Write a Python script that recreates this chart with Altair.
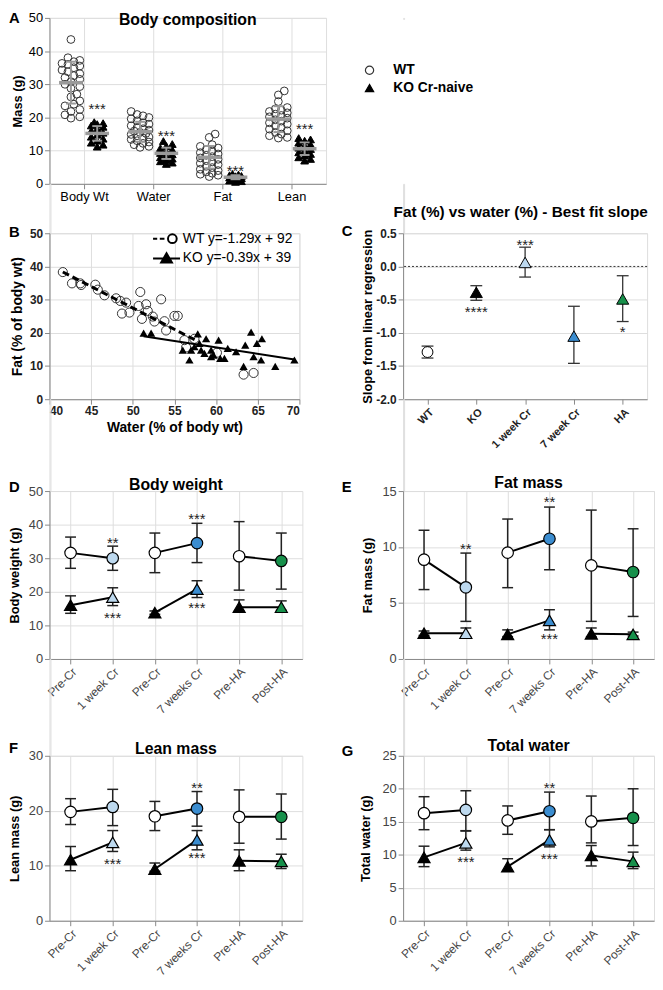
import altair as alt
import pandas as pd

FONT = "Liberation Sans"
LIGHT_BLUE = "#bdd9ef"
MID_BLUE = "#3b8dd0"
GREEN = "#17904b"

# ---------------- Panel A : body composition ----------------
comp_cats = ["Body Wt", "Water", "Fat", "Lean"]
a_groups = ["WT", "KO Cr-naive"]
a_wt_body = [43.5, 38.0, 37.2, 36.8, 36.3, 36.0, 35.5, 35.0, 34.3, 33.8, 33.2, 32.6, 32.0, 31.5,
             30.8, 30.0, 29.3, 28.8, 27.0, 26.2, 25.0, 24.0, 23.5, 22.4, 21.8, 20.8, 20.2, 19.8]
a_wt_water = [21.8, 20.9, 20.5, 20.0, 19.6, 19.0, 18.4, 18.0, 17.5, 17.0, 16.6, 16.2, 15.9, 15.5,
              15.2, 14.9, 14.5, 14.1, 13.8, 13.4, 13.0, 12.6, 12.2, 11.8, 11.3, 11.0]
a_wt_fat = [15.0, 14.0, 11.8, 11.3, 10.8, 10.3, 9.9, 9.4, 9.0, 8.6, 8.2, 7.8, 7.4, 7.0, 6.6,
            6.2, 5.8, 5.3, 4.9, 4.4, 4.0, 3.6, 3.2, 2.9, 2.6, 2.2]
a_wt_lean = [28.0, 26.8, 24.8, 23.0, 22.6, 22.2, 21.8, 21.4, 21.0, 20.6, 20.2, 19.8, 19.3, 18.9,
             18.4, 18.0, 17.5, 17.0, 16.5, 16.0, 15.5, 15.0, 14.5, 14.0, 13.8]
a_ko_body = [18.6, 18.3, 18.0, 17.6, 17.2, 16.6, 16.0, 15.4, 14.8, 14.2, 13.6, 13.0, 12.4, 11.8, 11.2]
a_ko_water = [12.9, 12.0, 11.4, 10.8, 10.3, 9.8, 9.3, 8.9, 8.5, 8.0, 7.6, 7.2, 6.8, 6.4, 6.0]
a_ko_fat = [3.0, 2.8, 2.6, 2.4, 2.3, 2.1, 2.0, 1.9, 1.7, 1.6, 1.4, 1.2, 1.0, 0.8, 0.6]
a_ko_lean = [13.8, 13.4, 13.0, 12.4, 11.9, 11.4, 10.9, 10.5, 10.0, 9.5, 9.0, 8.5, 8.0, 7.5, 7.0]
a_wt_mean = [30.5, 15.7, 8.0, 19.5]
a_wt_sd = [6.3, 3.0, 3.4, 3.9]
a_ko_mean = [15.2, 9.2, 2.0, 10.6]
a_ko_sd = [2.2, 1.7, 0.6, 1.9]
a_star_y = [23.3, 15.2, 4.6, 17.5]

# ---------------- Panel B : fat % vs water % ----------------
b_wt_water = [41.6, 42.7, 43.7, 43.8, 45.5, 45.8, 46.6, 48.0, 48.5, 48.7, 49.2, 49.6, 50.9, 50.7,
              51.6, 51.8, 51.1, 52.4, 52.6, 53.4, 53.8, 54.0, 55.0, 55.4, 56.2, 56.4, 57.4, 60.1,
              63.3, 64.5]
b_wt_fat = [38.3, 34.9, 34.9, 34.4, 34.5, 33.0, 31.3, 30.4, 29.6, 25.8, 29.1, 26.1, 32.3, 28.1,
            28.6, 26.6, 24.2, 24.9, 23.4, 30.1, 23.5, 20.7, 25.1, 25.1, 17.8, 15.6, 18.2, 14.0,
            7.4, 7.9]
b_ko_water = [51.3, 52.2, 56.0, 56.8, 57.0, 57.4, 57.8, 58.0, 58.2, 58.6, 58.8, 59.4, 59.4, 59.7,
              60.3, 60.5, 61.0, 61.4, 62.4, 63.3, 63.5, 64.2, 64.5, 64.9, 65.4, 65.5, 67.1, 69.4]
b_ko_fat = [19.9, 19.9, 14.8, 11.8, 14.8, 15.8, 19.7, 16.8, 14.8, 13.8, 18.2, 12.8, 14.8, 13.3,
            17.8, 12.3, 12.3, 15.3, 14.3, 9.9, 16.3, 20.2, 12.8, 16.8, 11.8, 18.2, 9.9, 11.8]
b_fit_labels = ["WT y=-1.29x + 92", "KO y=-0.39x + 39"]
b_fit_slope = [-1.29, -0.39]
b_fit_icpt = [92.0, 39.0]
b_fit_range = [[41.6, 57.6], [51.3, 69.4]]

# ---------------- Panel C : best-fit slopes ----------------
c_cats = ["WT", "KO", "1 week Cr", "7 week Cr", "HA"]
c_slope = [-1.29, -0.39, 0.06, -1.05, -0.49]
c_lo = [-1.38, -0.51, -0.16, -1.46, -0.83]
c_hi = [-1.20, -0.29, 0.29, -0.60, -0.14]
c_star_cat = ["KO", "1 week Cr", "HA"]
c_star_txt = ["****", "***", "*"]
c_star_y = [-0.65, 0.37, -0.94]

# ---------------- Panels D-G : time courses ----------------
time_cats = ["Pre-Cr", "1 week Cr", "Pre-Cr", "7 weeks Cr", "Pre-HA", "Post-HA"]

d_wt = [31.6, 30.0, 31.6, 34.5, 30.6, 29.2]
d_wt_lo = [27.0, 26.4, 25.7, 28.7, 20.5, 20.8]
d_wt_hi = [36.3, 33.6, 37.5, 40.4, 40.9, 37.5]
d_ko = [16.0, 18.4, 13.8, 20.8, 15.4, 15.4]
d_ko_lo = [13.6, 15.9, 13.3, 18.3, 14.2, 14.5]
d_ko_hi = [18.8, 21.2, 14.3, 23.3, 17.6, 17.3]
d_star_i = [1, 1, 3, 3]
d_star_txt = ["**", "***", "***", "***"]
d_star_y = [35.3, 13.1, 42.5, 16.0]

e_wt = [8.87, 6.4, 9.5, 10.74, 8.36, 7.77]
e_wt_lo = [6.2, 3.36, 6.37, 7.97, 3.36, 3.8]
e_wt_hi = [11.5, 9.46, 12.5, 13.57, 13.3, 11.63]
e_ko = [2.3, 2.3, 2.2, 3.45, 2.25, 2.2]
e_ko_lo = [2.1, 2.0, 2.0, 2.6, 2.0, 2.05]
e_ko_hi = [2.5, 2.77, 2.6, 4.4, 2.77, 2.4]
e_star_i = [1, 3, 3]
e_star_txt = ["**", "**", "***"]
e_star_y = [10.1, 14.25, 2.0]

f_wt = [19.8, 20.7, 19.0, 20.4, 18.9, 18.9]
f_wt_lo = [17.5, 17.3, 16.4, 17.2, 14.1, 14.85]
f_wt_hi = [22.2, 23.9, 21.7, 23.5, 23.8, 23.05]
f_ko = [11.1, 14.25, 9.4, 14.7, 10.9, 10.8]
f_ko_lo = [9.1, 12.6, 9.0, 12.9, 9.1, 9.5]
f_ko_hi = [13.5, 16.4, 10.5, 16.4, 12.9, 12.1]
f_star_i = [3, 1, 3]
f_star_txt = ["**", "***", "***"]
f_star_y = [24.7, 10.8, 11.9]

g_wt = [16.3, 16.8, 15.2, 16.6, 15.05, 15.6]
g_wt_lo = [13.8, 13.65, 13.1, 13.8, 11.8, 11.4]
g_wt_hi = [18.8, 19.7, 17.4, 19.5, 18.9, 20.0]
g_ko = [9.6, 11.8, 8.2, 12.25, 9.9, 9.0]
g_ko_lo = [8.2, 10.7, 7.6, 11.2, 8.3, 7.9]
g_ko_hi = [11.3, 13.6, 9.4, 13.8, 11.4, 10.4]
g_star_i = [3, 1, 3]
g_star_txt = ["**", "***", "***"]
g_star_y = [20.5, 9.3, 9.8]

# ---------------- helpers ----------------
WT_FILLS = ["white", LIGHT_BLUE, "white", MID_BLUE, "white", GREEN]
KO_FILLS = ["black", LIGHT_BLUE, "black", MID_BLUE, "black", GREEN]
C_FILLS = {"WT": "white", "KO": "black", "1 week Cr": LIGHT_BLUE, "7 week Cr": MID_BLUE, "HA": GREEN}
C_SHAPES = {"WT": "circle", "KO": "triangle-up", "1 week Cr": "triangle-up",
            "7 week Cr": "triangle-up", "HA": "triangle-up"}


def swarm(values, ppu, diam, step, maxoff):
    """Deterministic, bounded beeswarm offsets in pixels (markers may overlap when crowded)."""
    placed, offs = [], [0.0] * len(values)
    cands = [0.0]
    j = 1
    while j * step <= maxoff:
        cands += [j * step, -j * step]
        j += 1
    for i in sorted(range(len(values)), key=lambda k: values[k]):
        y = values[i] * ppu
        best, best_d = 0.0, -1.0
        for c in cands:
            d = min([((c - px) ** 2 + (y - py) ** 2) ** 0.5 for px, py in placed] or [1e9])
            if d >= diam:
                best = c
                break
            if d > best_d:
                best, best_d = c, d
        offs[i] = best
        placed.append((best, y))
    return offs


def text_mark(text, x, y, size, weight="bold", align="left", color="black"):
    return alt.Chart(pd.DataFrame({"t": [text]})).mark_text(
        align=align, baseline="middle", fontSize=size, fontWeight=weight, font=FONT, color=color
    ).encode(x=alt.value(x), y=alt.value(y), text="t:N")


def spacer(h):
    return alt.Chart(pd.DataFrame({"s": [0]})).mark_point(opacity=0, size=1).encode(
        x=alt.value(0), y=alt.value(0)).properties(width=1, height=h)


def label_expr(labels, floor=False):
    arr = "[" + ",".join("'" + s + "'" for s in labels) + "]"
    return arr + ("[floor(datum.value)]" if floor else "[datum.value]")


# ---------------- build panel A ----------------
A_W, A_H = 280, 168
a_ppu_y = A_H / 50.0
a_ppu_x = A_W / 4.0
wt_lists = [a_wt_body, a_wt_water, a_wt_fat, a_wt_lean]
ko_lists = [a_ko_body, a_ko_water, a_ko_fat, a_ko_lean]
pts, summ, stars = [], [], []
for ci, cat in enumerate(comp_cats):
    for g, vals, side, mean, sd, dia, mo in (
            ("WT", wt_lists[ci], -0.19, a_wt_mean[ci], a_wt_sd[ci], 6.5, 11),
            ("KO Cr-naive", ko_lists[ci], 0.19, a_ko_mean[ci], a_ko_sd[ci], 5.5, 8)):
        offs = swarm(vals, a_ppu_y, dia, 3.0, mo)
        for v, o in zip(vals, offs):
            pts.append({"group": g, "v": v, "x": ci + 0.5 + side + o / a_ppu_x})
        summ.append({"x": ci + 0.5 + side, "v": mean, "lo": mean - sd, "hi": mean + sd})
    stars.append({"x": ci + 0.5 + 0.19, "v": a_star_y[ci], "t": "***"})
a_pts = pd.DataFrame(pts)
a_sum = pd.DataFrame(summ)
a_star = pd.DataFrame(stars)

xA_axis = alt.Axis(values=[0.5, 1.5, 2.5, 3.5], labelExpr=label_expr(comp_cats, True), title=None,
                   labelFontSize=13, labelAngle=0, labelOverlap=False)
yA_axis = alt.Axis(values=[0, 10, 20, 30, 40, 50], title="Mass (g)", titlePadding=4, labelFontSize=13,
                   titleFontSize=13, titleFontWeight="bold")
xA_scale = alt.Scale(domain=[0, 4], nice=False, zero=False)
yA_scale = alt.Scale(domain=[0, 50], nice=False)


def xA(f="x"):
    return alt.X(f + ":Q", scale=xA_scale, axis=xA_axis)


def yA(f="v"):
    return alt.Y(f + ":Q", scale=yA_scale, axis=yA_axis)


leg_a = alt.Legend(orient="none", legendX=317, legendY=46, title=None, labelFontSize=14,
                   labelFontWeight="bold", labelFont=FONT, labelColor="black", symbolSize=70,
                   symbolStrokeWidth=1.2, labelOffset=17, rowPadding=4, padding=0)
a_points = alt.Chart(a_pts).mark_point(size=62, strokeWidth=1, opacity=1, filled=True).encode(
    x=xA(), y=yA(),
    shape=alt.Shape("group:N", scale=alt.Scale(domain=a_groups, range=["circle", "triangle-up"]), legend=leg_a),
    fill=alt.Fill("group:N", scale=alt.Scale(domain=a_groups, range=["transparent", "black"]), legend=leg_a),
    stroke=alt.Stroke("group:N", scale=alt.Scale(domain=a_groups, range=["#333333", "black"]), legend=leg_a),
)
a_sd = alt.Chart(a_sum).mark_rule(color="#9a9a9a", strokeWidth=2).encode(x=xA(), y=yA("lo"), y2="hi:Q")
a_cap_lo = alt.Chart(a_sum).mark_tick(orient="horizontal", size=10, thickness=2, color="#9a9a9a",
                                      opacity=1).encode(x=xA(), y=yA("lo"))
a_cap_hi = alt.Chart(a_sum).mark_tick(orient="horizontal", size=10, thickness=2, color="#9a9a9a",
                                      opacity=1).encode(x=xA(), y=yA("hi"))
a_mean = alt.Chart(a_sum).mark_tick(orient="horizontal", size=24, thickness=3.5, color="#9a9a9a",
                                    opacity=1).encode(x=xA(), y=yA())
a_stars = alt.Chart(a_star).mark_text(fontSize=15, font=FONT, color="#222", baseline="middle",
                                      dy=3).encode(x=xA(), y=yA(), text="t:N")
panel_a = alt.layer(
    a_points, a_sd, a_cap_lo, a_cap_hi, a_mean, a_stars,
    text_mark("Body composition", A_W / 2, 2, 16, align="center"),
    text_mark("A", -41, 0, 15),
).properties(width=A_W, height=A_H)

# ---------------- build panel B ----------------
B_W, B_H = 253, 168
xB_axis = alt.Axis(values=[40, 45, 50, 55, 60, 65, 70], title="Water (% of body wt)", labelFontWeight="bold",
                   labelFontSize=12, titleFontSize=14, labelColor="#222", labelOverlap=False)
yB_axis = alt.Axis(values=[0, 10, 20, 30, 40, 50], title="Fat (% of body wt)", labelFontWeight="bold",
                   labelFontSize=12, titleFontSize=14, titlePadding=5, labelColor="#222")
xB = alt.X("w:Q", scale=alt.Scale(domain=[40, 70], nice=False, zero=False), axis=xB_axis)
yB = alt.Y("f:Q", scale=alt.Scale(domain=[0, 50], nice=False), axis=yB_axis)

b_wt = pd.DataFrame({"w": b_wt_water, "f": b_wt_fat})
b_ko = pd.DataFrame({"w": b_ko_water, "f": b_ko_fat})
fit_rows = []
for lab, s, c, rng in zip(b_fit_labels, b_fit_slope, b_fit_icpt, b_fit_range):
    for w in rng:
        fit_rows.append({"lab": lab, "w": w, "f": s * w + c})
b_fit = pd.DataFrame(fit_rows)

wt_sym = ("M-1.3,0L-0.9,0M-0.65,0L-0.2,0M0.98,0A0.42,0.42 0 1 1 0.14,0"
          "A0.42,0.42 0 1 1 0.98,0Z")
ko_sym = "M-1.3,0L1.3,0M0,-0.5L0.52,0.4L-0.52,0.4Z"
leg_b = alt.Legend(orient="none", legendX=107, legendY=-6, title=None, labelFontSize=14, labelFont=FONT,
                   labelColor="black", symbolSize=441, symbolStrokeWidth=2, labelOffset=5,
                   rowPadding=0, padding=0)
b_legend = alt.Chart(pd.DataFrame({"lab": b_fit_labels, "w": [50, 50], "f": [25, 25]})).transform_filter(
    "false").mark_point(filled=True, opacity=1, strokeWidth=2).encode(
    x=xB, y=yB,
    shape=alt.Shape("lab:N", scale=alt.Scale(domain=b_fit_labels, range=[wt_sym, ko_sym]), legend=leg_b),
    fill=alt.Fill("lab:N", scale=alt.Scale(domain=b_fit_labels, range=["white", "black"]), legend=leg_b),
    stroke=alt.Stroke("lab:N", scale=alt.Scale(domain=b_fit_labels, range=["black", "black"]), legend=leg_b),
)
b_wt_pts = alt.Chart(b_wt).mark_point(shape="circle", filled=False, size=85, stroke="#333", strokeWidth=1,
                                      opacity=1).encode(x=xB, y=yB)
b_ko_pts = alt.Chart(b_ko).mark_point(shape="triangle-up", filled=True, size=70, fill="black",
                                      opacity=1).encode(x=xB, y=yB)
b_wt_line = alt.Chart(b_fit).transform_filter(alt.datum.lab == b_fit_labels[0]).mark_line(
    color="black", strokeWidth=3, strokeDash=[7, 4]).encode(x=xB, y=yB)
b_ko_line = alt.Chart(b_fit).transform_filter(alt.datum.lab == b_fit_labels[1]).mark_line(
    color="black", strokeWidth=2).encode(x=xB, y=yB)
panel_b = alt.layer(
    b_wt_pts, b_ko_pts, b_wt_line, b_ko_line, b_legend, text_mark("B", -41, -1, 15)
).properties(width=B_W, height=B_H)

# ---------------- build panel C ----------------
C_W, C_H = 247, 168
c_df = pd.DataFrame({"cat": c_cats, "v": c_slope, "lo": c_lo, "hi": c_hi,
                     "fill": [C_FILLS[c] for c in c_cats], "shape": [C_SHAPES[c] for c in c_cats],
                     "size": [120 if C_SHAPES[c] == "circle" else 150 for c in c_cats]})
c_st = pd.DataFrame({"cat": c_star_cat, "v": c_star_y, "t": c_star_txt})
xC = alt.X("cat:N", sort=c_cats, scale=alt.Scale(type="point", padding=0.5),
           axis=alt.Axis(title=None, labelAngle=-45, labelFontWeight="bold", labelFontSize=11,
                         labelColor="#222", labelOverlap=False))
yC_axis = alt.Axis(values=[-2.0, -1.5, -1.0, -0.5, 0.0, 0.5],
                   labelExpr="replace(format(datum.value, '.1f'), '\u2212', '-')",
                   title="Slope from linear regression", labelFontWeight="bold", labelFontSize=12,
                   titlePadding=1, labelColor="#222", titleFontSize=13, titleFontWeight="bold")
yC_scale = alt.Scale(domain=[-2.0, 0.5], nice=False, zero=False)


def yC(f):
    return alt.Y(f + ":Q", scale=yC_scale, axis=yC_axis)


c_zero = alt.Chart(pd.DataFrame({"z": [0.0]})).mark_rule(color="#333", strokeWidth=1, strokeDash=[2, 2]).encode(
    y=yC("z"))
c_err = alt.Chart(c_df).mark_rule(color="#333", strokeWidth=1.3).encode(x=xC, y=yC("lo"), y2="hi:Q")
c_cap1 = alt.Chart(c_df).mark_tick(orient="horizontal", size=12, thickness=1.3, color="#333", opacity=1).encode(
    x=xC, y=yC("lo"))
c_cap2 = alt.Chart(c_df).mark_tick(orient="horizontal", size=12, thickness=1.3, color="#333", opacity=1).encode(
    x=xC, y=yC("hi"))
c_pts = alt.Chart(c_df).mark_point(filled=True, stroke="black", strokeWidth=1, opacity=1).encode(
    x=xC, y=yC("v"), shape=alt.Shape("shape:N", scale=None), fill=alt.Fill("fill:N", scale=None),
    size=alt.Size("size:Q", scale=None))
c_stars = alt.Chart(c_st).mark_text(fontSize=15, font=FONT, color="#222", baseline="middle", dy=3).encode(
    x=xC, y=yC("v"), text="t:N")
panel_c = alt.layer(
    c_zero, c_err, c_cap1, c_cap2, c_pts, c_stars,
    text_mark("Fat (%) vs water (%) - Best fit slope", 119, -21, 15.5, align="center"),
    text_mark("C", -62, -2, 15),
).properties(width=C_W, height=C_H)


# ---------------- build panels D-G ----------------
def time_panel(wt, wt_lo, wt_hi, ko, ko_lo, ko_hi, st_i, st_t, st_y, ymax, ystep, ytitle, tpad,
               title, title_xy, letter, letter_xy, W, H):
    rows = []
    for g, m, lo, hi in (("WT", wt, wt_lo, wt_hi), ("KO", ko, ko_lo, ko_hi)):
        for i in range(6):
            rows.append({"i": i, "pair": i // 2, "g": g, "m": m[i], "lo": lo[i], "hi": hi[i],
                         "fill": (WT_FILLS if g == "WT" else KO_FILLS)[i],
                         "shape": "circle" if g == "WT" else "triangle-up",
                         "size": 135 if g == "WT" else 150})
    df = pd.DataFrame(rows)
    sdf = pd.DataFrame({"i": st_i, "m": st_y, "t": st_t})
    x_axis = alt.Axis(values=list(range(6)), labelExpr=label_expr(time_cats), labelAngle=-45, title=None,
                      labelFontSize=12, labelColor="#444", labelOverlap=False, labelAlign="right",
                      labelBaseline="top")
    y_axis = alt.Axis(values=list(range(0, ymax + 1, ystep)), title=ytitle, titlePadding=tpad,
                      labelFontSize=13, labelColor="#444", titleFontSize=13, titleFontWeight="bold")
    xs = alt.Scale(domain=[-0.5, 5.5], nice=False, zero=False)
    ys = alt.Scale(domain=[0, ymax], nice=False)

    def X():
        return alt.X("i:Q", scale=xs, axis=x_axis)

    def Y(f):
        return alt.Y(f + ":Q", scale=ys, axis=y_axis)

    base = alt.Chart(df)
    err = base.mark_rule(color="#222", strokeWidth=1.5).encode(x=X(), y=Y("lo"), y2="hi:Q")
    cap1 = base.mark_tick(orient="horizontal", size=11, thickness=1.5, color="#222", opacity=1).encode(
        x=X(), y=Y("lo"))
    cap2 = base.mark_tick(orient="horizontal", size=11, thickness=1.5, color="#222", opacity=1).encode(
        x=X(), y=Y("hi"))
    lines = base.mark_line(color="black", strokeWidth=2).encode(
        x=X(), y=Y("m"), detail=["pair:N", "g:N"], order="i:Q")
    pts = base.mark_point(filled=True, stroke="black", strokeWidth=1.2, opacity=1).encode(
        x=X(), y=Y("m"), shape=alt.Shape("shape:N", scale=None), fill=alt.Fill("fill:N", scale=None),
        size=alt.Size("size:Q", scale=None))
    st = alt.Chart(sdf).mark_text(fontSize=15, font=FONT, color="#222", baseline="middle", dy=3).encode(
        x=X(), y=Y("m"), text="t:N")
    return alt.layer(
        err, cap1, cap2, lines, pts, st,
        text_mark(title, title_xy[0], title_xy[1], 16, align="center"),
        text_mark(letter, letter_xy[0], letter_xy[1], 15),
    ).properties(width=W, height=H)


panel_d = time_panel(d_wt, d_wt_lo, d_wt_hi, d_ko, d_ko_lo, d_ko_hi, d_star_i, d_star_txt, d_star_y,
                     50, 10, "Body weight (g)", 7, "Body weight", (128, -6), "D", (-41, -4), 256, 170)
panel_e = time_panel(e_wt, e_wt_lo, e_wt_hi, e_ko, e_ko_lo, e_ko_hi, e_star_i, e_star_txt, e_star_y,
                     15, 5, "Fat mass (g)", 8, "Fat mass", (127, -8), "E", (-62, -4), 254, 170)
panel_f = time_panel(f_wt, f_wt_lo, f_wt_hi, f_ko, f_ko_lo, f_ko_hi, f_star_i, f_star_txt, f_star_y,
                     30, 10, "Lean mass (g)", 7, "Lean mass", (128, -7), "F", (-41, -8), 256, 167)
panel_g = time_panel(g_wt, g_wt_lo, g_wt_hi, g_ko, g_ko_lo, g_ko_hi, g_star_i, g_star_txt, g_star_y,
                     25, 5, "Total water (g)", 10, "Total water", (127, -10), "G", (-62, -5), 254, 167)

chart = alt.concat(
    panel_a, spacer(1),
    spacer(50), spacer(50),
    panel_b, panel_c,
    spacer(93), spacer(93),
    panel_d, panel_e,
    spacer(98), spacer(98),
    panel_f, panel_g,
    columns=2, spacing={"row": 0, "column": 78}, bounds="flush", align="each",
).resolve_scale(
    shape="independent", fill="independent", stroke="independent"
).resolve_legend(
    shape="independent", fill="independent", stroke="independent"
).configure_view(stroke=None).configure_axis(
    domainColor="black", domainWidth=2, tickColor="black", tickWidth=2, tickSize=5, grid=False,
    labelFont=FONT, titleFont=FONT, labelColor="#333", titleColor="black", titleFontSize=13,
    titleFontWeight="bold", labelPadding=2,
).configure_legend(labelFont=FONT).configure(font=FONT).properties(
    padding={"top": -4, "left": 0, "right": 0, "bottom": 0}, background="white")

chart.save("out.html", embed_options={"renderer": "svg", "actions": False})
